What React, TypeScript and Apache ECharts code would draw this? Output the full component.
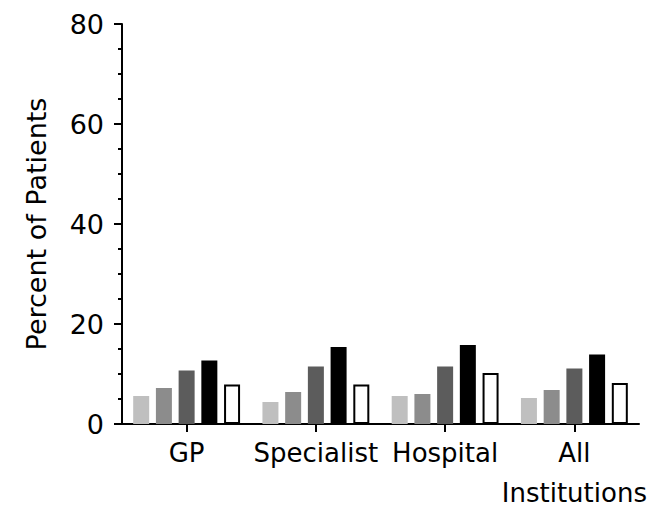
import React, { useEffect, useRef } from "react";
import * as echarts from "echarts";

const categories = ["GP", "Specialist", "Hospital", "All\nInstitutions"];
const series1 = [5.6, 4.4, 5.6, 5.2];
const series2 = [7.2, 6.4, 6.0, 6.8];
const series3 = [10.7, 11.5, 11.5, 11.1];
const series4 = [12.7, 15.4, 15.8, 13.9];
const series5 = [7.9, 7.9, 10.2, 8.2];
const yTicks = { min: 0, max: 80, interval: 20 };

const FONT = "DejaVu Sans";

export default function App() {
  const ref = useRef<HTMLDivElement>(null);
  useEffect(() => {
    if (!ref.current) return;
    const chart = echarts.init(ref.current, null, { renderer: "svg" });
    const bar = (data: number[], color: string, border?: string) => ({
      type: "bar",
      data,
      barWidth: 16,
      barGap: "42%",
      itemStyle: border
        ? { color, borderColor: border, borderWidth: 2 }
        : { color },
    });
    chart.setOption({
      animation: false,
      backgroundColor: "#fff",
      grid: { left: 122, right: 16, top: 24, bottom: 83, containLabel: false },
      xAxis: {
        type: "category",
        data: categories,
        axisLine: { show: true, lineStyle: { color: "#000", width: 2 } },
        axisTick: { show: true, alignWithLabel: true, length: 8, lineStyle: { color: "#000", width: 2 } },
        axisLabel: {
          color: "#000",
          fontFamily: FONT,
          fontSize: 26,
          lineHeight: 40,
          margin: 9,
          interval: 0,
        },
      },
      yAxis: {
        type: "value",
        min: yTicks.min,
        max: yTicks.max,
        interval: yTicks.interval,
        name: "Percent of Patients",
        nameLocation: "middle",
        nameGap: 72,
        nameTextStyle: { color: "#000", fontFamily: FONT, fontSize: 27 },
        axisLine: { show: true, lineStyle: { color: "#000", width: 2 } },
        axisTick: { show: true, length: 8, lineStyle: { color: "#000", width: 2 } },
        minorTick: { show: true, splitNumber: 4, length: 4, lineStyle: { color: "#000", width: 2 } },
        splitLine: { show: false },
        axisLabel: { color: "#000", fontFamily: FONT, fontSize: 27, margin: 18 },
      },
      series: [
        bar(series1, "#bfbfbf"),
        bar(series2, "#8c8c8c"),
        bar(series3, "#5c5c5c"),
        bar(series4, "#000000"),
        bar(series5, "#ffffff", "#000000"),
      ],
    });
    return () => chart.dispose();
  }, []);
  return (
    <div
      ref={ref}
      style={{ position: "fixed", left: 0, top: 0, width: 655, height: 513, background: "#fff" }}
    />
  );
}
